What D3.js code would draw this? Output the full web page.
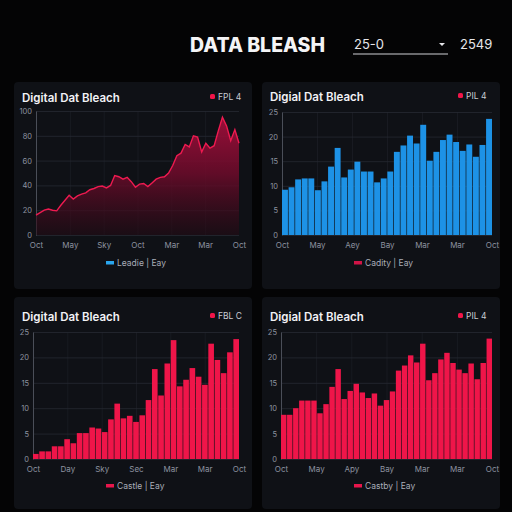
<!DOCTYPE html>
<html>
<head>
<meta charset="utf-8">
<script src="https://cdn.jsdelivr.net/npm/d3@7"></script>
<style>
html, body { margin: 0; padding: 0; background: #040405; }
svg { display: block; font-family: Inter, "Open Sans", sans-serif; }
</style>
</head>
<body>
<script>
// ---- data ----
var headerTitle = "DATA BLEASH";
var headerSelect = "25-0";
var headerValue = "2549";

var chartTitles = ["Digital Dat Bleach", "Digial Dat Bleach", "Digital Dat Bleach", "Digial Dat Bleach"];
var topLegends = ["FPL 4", "PIL 4", "FBL C", "PIL 4"];
var bottomLegends = ["Leadie", "Cadity", "Castle", "Castby"];
var bottomLegendTail = "Eay";

// top left: area line
var lineValues = [16, 18, 20, 21, 20, 19.5, 24, 28, 32, 29, 31.5, 33, 34, 36.5, 37.5, 39, 39.5, 38, 40, 48,
                  47, 45, 46.5, 43, 38.5, 41, 41.5, 39, 42, 45, 46.5, 47, 50, 56, 64, 66, 73, 71, 80, 79,
                  67, 74, 70, 72, 84, 95, 88, 76, 85, 74];
var lineXLabels = ["Oct", "May", "Sky", "Oct", "Mar", "Mar", "Oct"];
var lineYTicks = [0, 20, 40, 60, 80, 100];

// top right: blue bars
var blueValues = [9.2, 9.7, 11.3, 11.5, 11.5, 9.1, 10.9, 13.9, 17.7, 11.7, 13.3, 14.9, 12.9, 12.9, 10.7, 11.5,
                  12.9, 16.9, 18.2, 20.2, 18.6, 22.4, 15.1, 16.9, 19.3, 20.4, 18.9, 17.1, 18.4, 15.9, 18.3, 23.6];
var blueXLabels = ["Oct", "May", "Aey", "Bay", "Mar", "Mar", "Oct"];

// bottom left: red bars, rising
var redValuesA = [1.0, 1.5, 1.5, 2.5, 2.5, 3.9, 3.1, 5.1, 5.1, 6.2, 6.0, 5.3, 7.8, 10.9, 8.0, 8.5, 7.3,
                  8.6, 11.6, 17.7, 12.5, 18.8, 23.4, 14.3, 15.6, 17.9, 16.2, 14.6, 22.7, 19.5, 16.9, 21.0, 23.6];
var redXLabelsA = ["Oct", "Day", "Sky", "Sec", "Mar", "Mar", "Oct"];

// bottom right: red bars
var redValuesB = [8.7, 8.7, 10.0, 11.5, 11.5, 11.5, 9.0, 10.8, 14.2, 17.7, 11.8, 13.4, 14.8, 13.1, 12.0, 12.9,
                  10.5, 11.6, 13.3, 17.4, 18.4, 20.4, 19.0, 22.7, 15.5, 16.9, 19.6, 20.9, 18.9, 17.6, 16.9,
                  18.8, 15.7, 18.9, 23.7];
var redXLabelsB = ["Oct", "May", "Apy", "Bay", "Mar", "Mar", "Oct"];

var barYTicks = [0, 5, 10, 15, 20, 25];

// ---- colours ----
var panelFill = "#0f1116";
var gridColor = "#262932";
var tickColor = "#8e93a0";
var red = "#ef1549";
var blue = "#1d92e6";

var svg = d3.select("body").append("svg")
    .attr("width", 512)
    .attr("height", 512);

svg.append("rect").attr("width", 512).attr("height", 512).attr("fill", "#040405");

var defs = svg.append("defs");

// header
svg.append("text")
    .attr("x", 190).attr("y", 52)
    .attr("font-size", 19.5).attr("font-weight", 800)
    .attr("fill", "#f4f4f6")
    .text(headerTitle);

svg.append("text")
    .attr("x", 354).attr("y", 49)
    .attr("font-size", 13).attr("fill", "#e6e6ea")
    .text(headerSelect);

svg.append("line")
    .attr("x1", 353).attr("x2", 448).attr("y1", 54).attr("y2", 54)
    .attr("stroke", "#cfd0d6").attr("stroke-width", 1);

svg.append("path")
    .attr("d", "M439,43 L445,43 L442,46 Z")
    .attr("fill", "#e6e6ea");

svg.append("text")
    .attr("x", 460).attr("y", 49)
    .attr("font-size", 13).attr("fill", "#e6e6ea")
    .text(headerValue);

// panel boxes and plot areas
var panels = [
    {x: 14,  y: 82,  w: 238, h: 207, left: 36,  right: 239, top: 111, bottom: 235, titleY: 102, xLabY: 246, legY: 266},
    {x: 262, y: 82,  w: 238, h: 207, left: 282, right: 492, top: 112, bottom: 235, titleY: 101, xLabY: 246, legY: 266},
    {x: 14,  y: 297, w: 238, h: 212, left: 33,  right: 239, top: 332, bottom: 459, titleY: 321, xLabY: 471, legY: 489},
    {x: 262, y: 297, w: 238, h: 212, left: 281, right: 492, top: 332, bottom: 459, titleY: 321, xLabY: 471, legY: 489}
];

function drawFrame(i, yTicks, yMax, xLabels, swatchColor) {
    var p = panels[i];
    var g = svg.append("g");

    g.append("rect")
        .attr("x", p.x).attr("y", p.y)
        .attr("width", p.w).attr("height", p.h)
        .attr("rx", 4)
        .attr("fill", panelFill);

    g.append("text")
        .attr("x", p.x + 8).attr("y", p.titleY)
        .attr("font-size", 11.5).attr("font-weight", 600)
        .attr("fill", "#f2f2f5")
        .text(chartTitles[i]);

    // little legend top right
    g.append("rect")
        .attr("x", p.x + p.w - 42).attr("y", p.titleY - 8)
        .attr("width", 5).attr("height", 5).attr("rx", 1.5)
        .attr("fill", red);
    g.append("text")
        .attr("x", p.x + p.w - 34).attr("y", p.titleY - 2)
        .attr("font-size", 8.5).attr("fill", "#c9ccd4")
        .text(topLegends[i]);

    var y = d3.scaleLinear().domain([0, yMax]).range([p.bottom, p.top]);
    var xp = d3.scalePoint().domain(d3.range(xLabels.length)).range([p.left, p.right]);

    // grid
    g.append("g")
        .attr("transform", "translate(" + p.left + ",0)")
        .call(d3.axisLeft(y).tickValues(yTicks).tickSize(-(p.right - p.left)).tickFormat(""))
        .call(function(s) {
            s.select(".domain").remove();
            s.selectAll("line").attr("stroke", gridColor).attr("stroke-width", 0.8);
        });
    g.append("g")
        .attr("transform", "translate(0," + p.top + ")")
        .call(d3.axisBottom(xp).tickSize(p.bottom - p.top).tickFormat(""))
        .call(function(s) {
            s.select(".domain").remove();
            s.selectAll("line").attr("stroke", gridColor).attr("stroke-width", 0.6)
                .attr("opacity", function(d, j) { return (j === 0 || j === xLabels.length - 1) ? 0 : 0.7; });
        });

    // y axis labels
    g.append("g")
        .attr("transform", "translate(" + p.left + ",0)")
        .call(d3.axisLeft(y).tickValues(yTicks).tickSize(0).tickPadding(4))
        .call(function(s) {
            s.select(".domain").attr("stroke", "#4a4e58");
            s.selectAll("text").attr("fill", tickColor).attr("font-size", 7.5).attr("font-family", "Inter, sans-serif");
        });

    // x axis labels
    g.append("g")
        .attr("transform", "translate(0," + p.bottom + ")")
        .call(d3.axisBottom(xp).tickSize(0).tickPadding(7).tickFormat(function(d) { return xLabels[d]; }))
        .call(function(s) {
            s.select(".domain").remove();
            s.selectAll("text").attr("fill", tickColor).attr("font-size", 8).attr("font-family", "Inter, sans-serif");
        });

    // bottom legend
    var lx = p.x + 92;
    g.append("rect")
        .attr("x", lx).attr("y", p.legY - 5)
        .attr("width", 8).attr("height", 3.5)
        .attr("fill", swatchColor);
    g.append("text")
        .attr("x", lx + 11).attr("y", p.legY)
        .attr("font-size", 8.5).attr("fill", "#a9adb8")
        .text(bottomLegends[i] + "  |  " + bottomLegendTail);

    return {g: g, y: y, p: p};
}

// top left: area chart
(function() {
    var f = drawFrame(0, lineYTicks, 100, lineXLabels, "#2aa6ee");
    var p = f.p, y = f.y;
    var x = d3.scaleLinear().domain([0, lineValues.length - 1]).range([p.left, p.right]);

    var grad = defs.append("linearGradient")
        .attr("id", "areaGrad")
        .attr("gradientUnits", "userSpaceOnUse")
        .attr("x1", 0).attr("x2", 0)
        .attr("y1", p.top).attr("y2", p.bottom);
    grad.append("stop").attr("offset", "0%").attr("stop-color", "#a80f3d").attr("stop-opacity", 0.95);
    grad.append("stop").attr("offset", "50%").attr("stop-color", "#700b2b").attr("stop-opacity", 0.85);
    grad.append("stop").attr("offset", "100%").attr("stop-color", "#240a14").attr("stop-opacity", 0.55);

    var area = d3.area()
        .x(function(d, i) { return x(i); })
        .y0(p.bottom)
        .y1(function(d) { return y(d); });
    var line = d3.line()
        .x(function(d, i) { return x(i); })
        .y(function(d) { return y(d); });

    f.g.append("path").datum(lineValues).attr("d", area).attr("fill", "url(#areaGrad)");
    f.g.append("path").datum(lineValues).attr("d", line)
        .attr("fill", "none").attr("stroke", "#ee1a50").attr("stroke-width", 1.4);
})();

function drawBars(i, values, xLabels, color, swatch) {
    var f = drawFrame(i, barYTicks, 25, xLabels, swatch);
    var p = f.p, y = f.y;
    var x = d3.scaleBand().domain(d3.range(values.length)).range([p.left, p.right]).paddingInner(0.1);
    f.g.selectAll(".bar")
        .data(values)
        .enter().append("rect")
        .attr("class", "bar")
        .attr("x", function(d, j) { return x(j); })
        .attr("width", x.bandwidth())
        .attr("y", function(d) { return y(d); })
        .attr("height", function(d) { return p.bottom - y(d); })
        .attr("fill", color);
}

drawBars(1, blueValues, blueXLabels, blue, "#d01447");
drawBars(2, redValuesA, redXLabelsA, red, "#e8164c");
drawBars(3, redValuesB, redXLabelsB, red, "#e8164c");
</script>
</body>
</html>
